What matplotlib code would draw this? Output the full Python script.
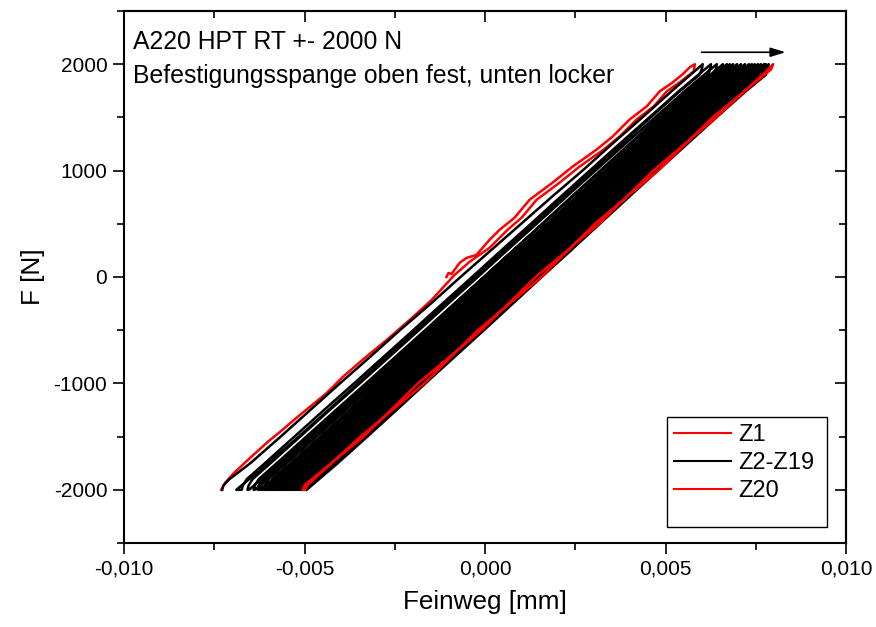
#!/usr/bin/env python3
"""
Hysterese-Schleifen A220 HPT, RT, +-2000 N (Zyklen Z1..Z20)
"""

import matplotlib.pyplot as plt
from matplotlib.patches import Rectangle
from matplotlib.ticker import MultipleLocator, FuncFormatter

plt.rcParams['font.family'] = ['Liberation Sans', 'DejaVu Sans']
plt.rcParams['axes.unicode_minus'] = False

# --- Z1: Start bei F=0, hoch bis +2000 N, runter bis -2000 N ---
z1_up_x = [-0.001068, -0.001012, -0.000929, -0.000707, -0.000513, -0.000236,
           -0.000069, 0.000125, 0.000402, 0.000818, 0.001234, 0.001872,
           0.002427, 0.003093, 0.003537, 0.004008, 0.004480, 0.004840,
           0.005201, 0.005478, 0.005673, 0.005811]
z1_up_f = [0, 38, 28, 132, 179, 208, 274, 349, 443, 557, 726, 887,
           1038, 1198, 1321, 1481, 1604, 1745, 1830, 1906, 1972, 2000]
z1_down_x = [0.005811, 0.005784, 0.005395, 0.005035, 0.004674, 0.004202,
             0.003731, 0.003287, 0.002621, 0.002067, 0.001429, 0.001012,
             0.000624, 0.000125, -0.000430, -0.000846, -0.001484, -0.002094,
             -0.002732, -0.003343, -0.003953, -0.004397, -0.005146, -0.005700,
             -0.005978, -0.006533, -0.006949, -0.007198, -0.007309]
z1_down_f = [2000, 1934, 1830, 1745, 1604, 1481, 1321, 1198, 1038, 887, 726,
             557, 443, 274, 142, 19, -217, -406, -594, -764, -943, -1094,
             -1302, -1462, -1538, -1708, -1840, -1934, -2000]

# Kraftstufen der Aeste
up_f = [-2000, -1960, -1900, -1750, -1500, -1250, -1000, -750, -500,
        -250, 0, 250, 500, 750, 1000, 1250, 1500, 1750, 2000]
down_f = [2000, 1960, 1900, 1750, 1500, 1250, 1000, 750, 500, 250, 0,
          -250, -500, -750, -1000, -1250, -1500, -1750, -2000]

# --- Z2 ---
z2_up_x = [-0.00728, -0.00725, -0.00708, -0.00650, -0.00566, -0.00484,
           -0.00402, -0.00318, -0.00236, -0.00150, -0.00068, 0.00016,
           0.00100, 0.00184, 0.00270, 0.00352, 0.00436, 0.00518, 0.00603]
z2_down_x = [0.00603, 0.00601, 0.00594, 0.00541, 0.00459, 0.00378, 0.00297,
             0.00216, 0.00135, 0.00054, -0.00027, -0.00108, -0.00190,
             -0.00271, -0.00352, -0.00434, -0.00516, -0.00600, -0.00689]

# --- Z3..Z19: Weg am oberen Umkehrpunkt ---
black_peak_x = [0.00626, 0.00642, 0.00659, 0.00670, 0.00678, 0.00687,
                0.00698, 0.00709, 0.00720, 0.00731, 0.00739, 0.00747,
                0.00756, 0.00764, 0.00773, 0.00778, 0.00786]

# Astform relativ zum oberen Umkehrpunkt (mm)
loop_up_dx = [-0.01300, -0.01297, -0.01286, -0.01236, -0.01154, -0.01072,
              -0.00989, -0.00907, -0.00825, -0.00744, -0.00662, -0.00581,
              -0.00499, -0.00418, -0.00336, -0.00254, -0.00171, -0.00088, 0.0]
loop_down_dx = [0.0, -0.00002, -0.00008, -0.00062, -0.00145, -0.00226,
                -0.00307, -0.00388, -0.00468, -0.00548, -0.00629, -0.00709,
                -0.00789, -0.00870, -0.00951, -0.01031, -0.01112, -0.01194,
                -0.01280]

# --- Z20 ---
z20_f_up = [-2000, -1950, -1500, -1000, -500, 0, 500, 1000, 1500, 1950, 2000]
z20_x_up = [-0.00506, -0.00498, -0.00336, -0.00186, -0.00010, 0.00140,
            0.00316, 0.00466, 0.00640, 0.00784, 0.00798]
z20_f_down = [2000, 1950, 1500, 1000, 500, 0, -500, -1000, -1500, -1950, -2000]
z20_x_down = [0.00798, 0.00792, 0.00630, 0.00480, 0.00304, 0.00156,
              -0.00020, -0.00168, -0.00345, -0.00490, -0.00500]


def black_cycles():
    """Z2..Z19 als ein Linienzug"""
    xs = z2_up_x + z2_down_x
    fs = up_f + down_f
    for t in black_peak_x:
        xs += [t + d for d in loop_up_dx] + [t + d for d in loop_down_dx]
        fs += up_f + down_f
    return xs, fs


def main():
    fig = plt.figure(figsize=(8.76, 6.27), dpi=100)
    ax = fig.add_axes([0.1416, 0.134, 0.8242, 0.8485])

    red = '#ff0000'
    ax.plot(z1_up_x + z1_down_x, z1_up_f + z1_down_f, color=red, lw=1.8,
            label='Z1', zorder=2)
    bx, bf = black_cycles()
    ax.plot(bx, bf, color='black', lw=1.8, label='Z2-Z19', zorder=3)
    ax.plot(z20_x_up + z20_x_down, z20_f_up + z20_f_down, color=red, lw=1.8,
            label='Z20', zorder=4)

    # Pfeil oben
    ax.annotate('', xy=(0.00840, 2112), xytext=(0.00592, 2112),
                arrowprops=dict(arrowstyle='-|>,head_length=0.9,head_width=0.28',
                                color='black', lw=1.2))

    ax.set_xlim(-0.010, 0.010)
    ax.set_ylim(-2500, 2500)
    ax.xaxis.set_major_locator(MultipleLocator(0.005))
    ax.xaxis.set_minor_locator(MultipleLocator(0.0025))
    ax.set_yticks([-2000, -1000, 0, 1000, 2000])
    ax.yaxis.set_minor_locator(MultipleLocator(500))
    ax.xaxis.set_major_formatter(
        FuncFormatter(lambda v, p: f"{v:.3f}".replace('.', ',').replace('-0,000', '0,000')))
    ax.yaxis.set_major_formatter(FuncFormatter(lambda v, p: f"{v:.0f}"))

    ax.tick_params(which='both', direction='out', labelsize=15, width=1.2,
                   top=False, right=False)
    ax.tick_params(which='major', length=8, pad=4)
    ax.tick_params(which='minor', length=5)
    for s in ax.spines.values():
        s.set_linewidth(1.5)

    # gespiegelte Ticks oben/rechts nach innen
    sec_x = ax.secondary_xaxis('top')
    sec_x.xaxis.set_major_locator(MultipleLocator(0.005))
    sec_x.xaxis.set_minor_locator(MultipleLocator(0.0025))
    sec_x.tick_params(which='both', direction='in', labeltop=False, width=1.2)
    sec_x.tick_params(which='major', length=8)
    sec_x.tick_params(which='minor', length=5)
    sec_x.spines['top'].set_linewidth(1.5)
    sec_y = ax.secondary_yaxis('right')
    sec_y.set_yticks([-2000, -1000, 0, 1000, 2000])
    sec_y.yaxis.set_minor_locator(MultipleLocator(500))
    sec_y.tick_params(which='both', direction='in', labelright=False, width=1.2)
    sec_y.tick_params(which='major', length=8)
    sec_y.tick_params(which='minor', length=5)
    sec_y.spines['right'].set_linewidth(1.5)

    ax.set_xlabel('Feinweg [mm]', fontsize=18.8, labelpad=8)
    ax.set_ylabel('F [N]', fontsize=18.8, labelpad=6)

    ax.text(0.0125, 0.9286, 'A220 HPT RT +- 2000 N', transform=ax.transAxes,
            fontsize=17.8, va='baseline')
    ax.text(0.0125, 0.8652, 'Befestigungsspange oben fest, unten locker',
            transform=ax.transAxes, fontsize=17.8, va='baseline')

    # Legende mit eigenem Rahmen
    ax.add_patch(Rectangle((0.752, 0.0301), 0.2217, 0.2067, transform=ax.transAxes,
                           fill=False, edgecolor='black', lw=1.0, zorder=5))
    leg = ax.legend(loc='upper left', bbox_to_anchor=(0.752, 0.2367),
                    fontsize=17, frameon=False, handlelength=2.4,
                    borderpad=0.3, labelspacing=0.25, handletextpad=0.3,
                    borderaxespad=0)
    for line in leg.get_lines():
        line.set_linewidth(1.5)

    plt.savefig('out.png', dpi=100)


if __name__ == '__main__':
    main()
